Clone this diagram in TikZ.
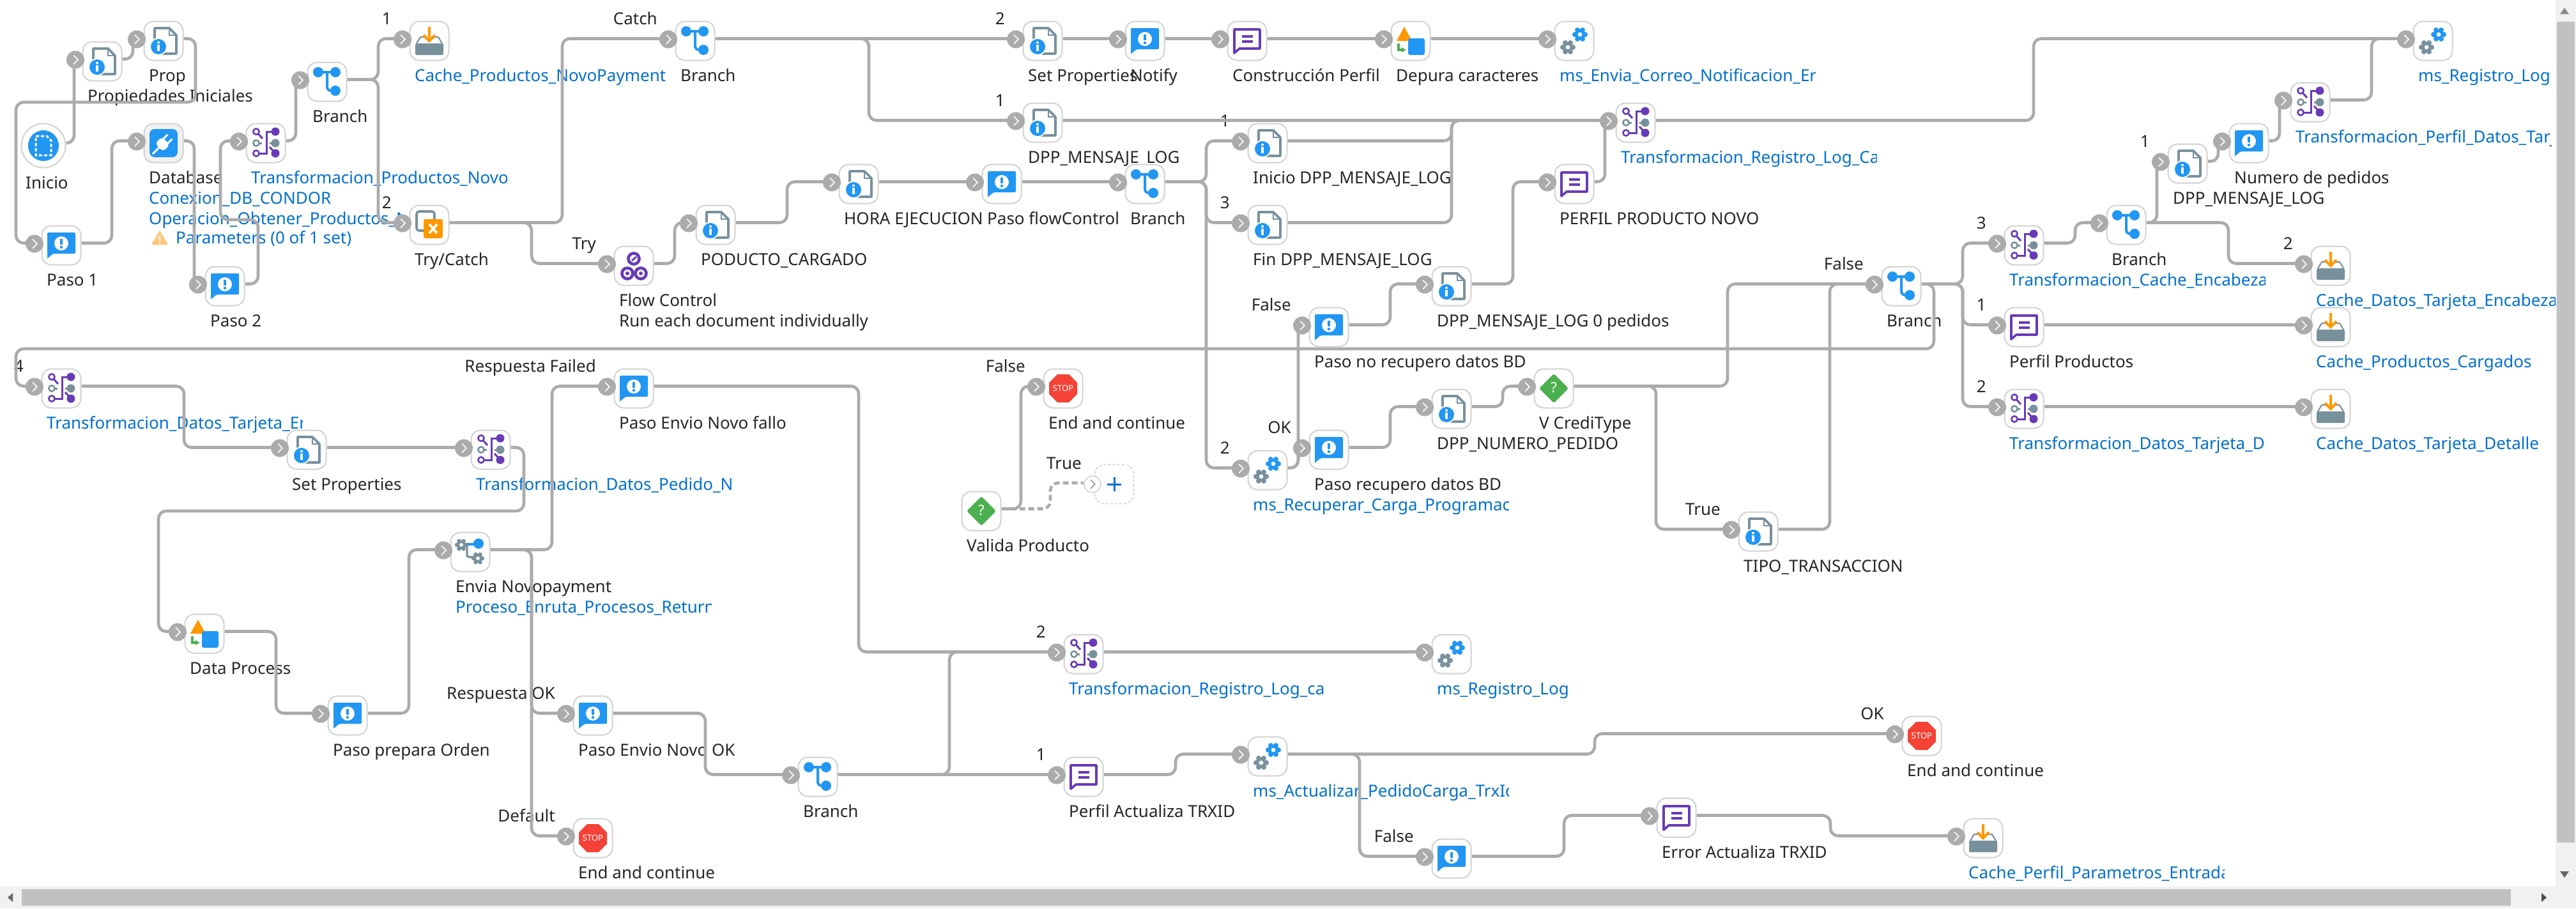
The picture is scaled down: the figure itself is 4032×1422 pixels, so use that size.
\documentclass[tikz,border=0pt]{standalone}
\usepackage{fontspec}
\setmainfont{Noto Sans}
\usetikzlibrary{arrows.meta}
\definecolor{portgray}{HTML}{ABABAB}
\definecolor{boxgray}{HTML}{D2D2D2}
\definecolor{icongray}{HTML}{78909C}
\definecolor{iconblue}{HTML}{2196F3}
\definecolor{iconpurple}{HTML}{673AB7}
\definecolor{iconorange}{HTML}{FF9800}
\definecolor{icongreen}{HTML}{4CAF50}
\definecolor{iconred}{HTML}{F44336}
\definecolor{linkblue}{HTML}{0070D2}
\definecolor{textdark}{HTML}{262626}
\definecolor{scrolltrack}{HTML}{F1F1F1}
\definecolor{scrollthumb}{HTML}{C1C1C1}
\pgfdeclarelayer{labels}
\pgfdeclarelayer{wires}
\pgfsetlayers{labels,wires,main}
\tikzset{
    stepbox/.style={draw=boxgray, fill=white, line width=2pt, rounded corners=15pt, minimum size=61pt, inner sep=0pt},
    stepport/.style={circle, fill=portgray, minimum size=28pt, inner sep=0pt},
    wire/.style={draw=portgray, line width=4.6pt, rounded corners=12pt},
    stepname/.style={anchor=base west, inner sep=0pt, text=textdark, font=\fontsize{26}{26}\selectfont},
    steplink/.style={stepname, text=linkblue},
    edgename/.style={anchor=base east, inner sep=0pt, text=textdark, font=\fontsize{26}{26}\selectfont},
    chevron/.pic={\draw[white, line width=1.6pt] (-3,-7) -- (4,0) -- (-3,7);},
    docinfo/.pic={
        \draw[icongray, line width=3.6pt, line join=round] (-4,20) -- (20,20) -- (20,-9) -- (9,-20) -- (-14,-20) -- (-14,6);
        \draw[icongray, line width=1.6pt] (9,-20) -- (9,-9) -- (20,-9);
        \fill[white] (-8,9) circle (14);
        \fill[iconblue] (-8,9) circle (12);
        \fill[white] (-8,2.5) circle (2);
        \fill[white] (-9.7,6) rectangle (-6.3,15.5);
    },
    notifyicon/.pic={
        \fill[iconblue, rounded corners=2pt] (-22,-20) -- (22,-20) -- (22,13) -- (-13,13) -- (-21,20) -- (-22,20) -- cycle;
        \fill[white] (0,-3) circle (11);
        \fill[iconblue] (-2,-10) rectangle (2,-1);
        \fill[iconblue] (0,3) circle (2.2);
    },
    branchicon/.pic={
        \draw[iconblue, line width=4pt] (-14,-15) -- (13,-15);
        \draw[iconblue, line width=4pt, rounded corners=6pt] (0,-15) -- (0,14) -- (13,14);
        \fill[iconblue] (-14,-15) circle (8) (13,-15) circle (8) (13,14) circle (8);
    },
    mapicon/.pic={
        \draw[iconpurple, line width=3pt] (15,-18) -- (1,-18) -- (1,16) -- (-15,16);
        \draw[iconpurple, line width=3pt] (-15,-18) -- (-5,-7) (15,16) -- (6,6);
        \draw[icongray, line width=3pt] (-15,0) -- (-6,0) (15,0) -- (6,0);
        \draw[iconpurple, line width=2.6pt, fill=white] (-15,-18) circle (4.6) (-15,16) circle (4.6);
        \draw[icongray, line width=2.6pt, fill=white] (-15,0) circle (4.6);
        \fill[iconpurple] (15,-18) circle (6.5) (15,16) circle (6.5);
        \fill[icongray] (15,0) circle (6.5);
    },
    cacheicon/.pic={
        \fill[icongray, rounded corners=2pt] (-22,4) rectangle (22,22);
        \draw[icongray, line width=2pt] (-20,4) -- (-14,-6) -- (-6,-6) (6,-6) -- (14,-6) -- (20,4);
        \draw[iconorange, line width=4pt] (0,-22) -- (0,0) (-9,-9) -- (0,0) -- (9,-9);
    },
    tryicon/.pic={
        \draw[icongray, line width=3.6pt, rounded corners=4pt] (-20,-21) rectangle (8,9);
        \fill[iconorange, rounded corners=3pt] (-9,-9) rectangle (21,21);
        \draw[white, line width=3.6pt] (0,-1) -- (12,13) (12,-1) -- (0,13);
    },
    flowicon/.pic={
        \draw[iconpurple, line width=4.6pt] (0,-11) circle (8.5) (-10,12) circle (8.5) (11,12) circle (8.5);
        \fill[iconpurple] (-10,12) circle (3) (11,12) circle (3);
        \draw[iconpurple, line width=3pt] (-3,-8) -- (4,-14);
    },
    dbicon/.pic={
        \fill[iconblue, rounded corners=8pt] (-22,-22) rectangle (22,22);
        \begin{scope}[rotate=-45]
            \fill[white, rounded corners=6pt] (-9,-5) rectangle (9,10);
            \draw[white, line width=3pt] (0,8) -- (0,24) (-5,-4) -- (-5,-14) (5,-4) -- (5,-14);
        \end{scope}
    },
    starticon/.pic={
        \fill[iconblue] (0,0) circle (24);
        \draw[white, line width=3pt, dash pattern=on 5pt off 3pt] (-12,-15) -- (5,-15) -- (12,-8) -- (12,15) -- (-12,15) -- cycle;
    },
    shapeicon/.pic={
        \fill[iconorange] (-22,0) -- (-10,-22) -- (2,0) -- cycle;
        \fill[iconblue, rounded corners=3pt] (-4,-4) rectangle (22,22);
        \draw[icongreen, line width=3.4pt, -{Latex[length=7pt,width=9pt]}] (-19,4) -- (-19,14) -- (-7,14);
    },
    flower/.pic={
        \fill (0,0) circle (8);
        \foreach \a in {0,60,...,300} {\fill (\a:8) circle (4);}
        \fill[white] (0,0) circle (3.4);
    },
    gearicon/.pic={
        \pic[iconblue] at (9,-10) {flower};
        \pic[icongray] at (-10,10) {flower};
    },
    routeicon/.pic={
        \draw[iconblue, line width=3.4pt] (-14,-12) -- (13,-12);
        \draw[icongray, line width=3.4pt, rounded corners=3pt] (-5,-11) -- (-5,8) -- (12,8);
        \pic[icongray, scale=.85] at (-14,-11) {flower};
        \pic[icongray, scale=.85] at (12,10) {flower};
        \fill[iconblue] (13,-13) circle (8);
    },
    stopicon/.pic={
        \fill[iconred] (-9,-22) -- (9,-22) -- (22,-9) -- (22,9) -- (9,22) -- (-9,22) -- (-22,9) -- (-22,-9) -- cycle;
        \node[text=white, inner sep=0pt, font=\fontsize{13}{13}\selectfont\bfseries] (-word) at (0,0) {STOP};
    },
    decideicon/.pic={
        \fill[icongreen, rounded corners=3pt] (0,-23) -- (23,0) -- (0,23) -- (-23,0) -- cycle;
        \node[text=white, inner sep=0pt, font=\fontsize{22}{22}\selectfont\bfseries] (-word) at (0,-1) {?};
    },
    perfilicon/.pic={
        \draw[iconpurple, line width=3.6pt, line join=round] (-20,-18) -- (20,-18) -- (20,12) -- (-12,12) -- (-20,19) -- cycle;
        \draw[iconpurple, line width=3.4pt] (-8,-7) -- (9,-7) (-8,1) -- (9,1);
    },
}
\newcommand{\stepbare}[5]{%
    \node[stepbox, fill=#5] (#1) at (#2,#3) {};
    \pic (#1-icon) at (#1.center) {#4};
    \coordinate (#1-in) at ([xshift=-42pt,yshift=3.5pt]#1.center);
    \coordinate (#1-out) at ([yshift=3.5pt]#1.east);
}
\newcommand{\stepnode}[4]{%
    \stepbare{#1}{#2}{#3}{#4}{white}
    \node[stepport] (#1-port) at ([xshift=-42pt,yshift=2.5pt]#1.center) {};
    \pic at (#1-port.center) {chevron};
}
\newcommand{\wire}[3]{\draw[wire] (#1-out) -- (#3,0 |- #1-out) -- (#3,0 |- #2-in) -- (#2-in);}
\newcommand{\straight}[2]{\draw[wire] (#1-out) -- (#2-in);}
\newcommand{\stepline}[4]{%
    \begin{scope}
        \clip ([xshift=-23pt,yshift={-(33+32*#3)*1pt}]#2.center) rectangle ++(400,44);
        \node[#1] (#2-line#3) at ([xshift=-23pt,yshift={-(63+32*#3)*1pt}]#2.center) {#4};
    \end{scope}
}
\newcommand{\stepdark}[2]{\stepline{stepname}{#1}{0}{#2}}
\newcommand{\steplinked}[2]{\stepline{steplink}{#1}{0}{#2}}
\newcommand{\edgetext}[2]{\node[edgename] (#1-edge) at ([xshift=-59pt,yshift=26pt]#1.center) {#2};}

\begin{document}
\begin{tikzpicture}[x=1pt, y=-1pt]
    \useasboundingbox (0,0) rectangle (4032,1422);

    \node[stepbox, circle, minimum size=69pt] (inicio) at (68,228) {};
    \pic at (inicio.center) {starticon};
    \coordinate (inicio-out) at ([yshift=4pt]inicio.east);
    \stepnode{propini}{160}{96}{docinfo}
    \stepnode{prop}{256}{64}{docinfo}
    \stepnode{pasouno}{96}{384}{notifyicon}
    \stepbare{database}{256}{224}{dbicon}{scrolltrack}
    \node[stepport] (database-port) at ([xshift=-42pt,yshift=2.5pt]database.center) {};
    \pic at (database-port.center) {chevron};
    \stepnode{pasodos}{352}{448}{notifyicon}
    \stepnode{mapproductos}{416}{224}{mapicon}
    \stepnode{branchuno}{512}{128}{branchicon}
    \stepnode{cachenovo}{672}{64}{cacheicon}
    \stepnode{trycatch}{672}{352}{tryicon}
    \stepnode{branchcatch}{1088}{64}{branchicon}
    \stepnode{flowctl}{992}{416}{flowicon}
    \stepnode{producto}{1120}{352}{docinfo}
    \stepnode{hora}{1344}{288}{docinfo}
    \stepnode{pasoflow}{1568}{288}{notifyicon}
    \stepnode{branchflow}{1792}{288}{branchicon}
    \stepnode{setprops}{1632}{64}{docinfo}
    \stepnode{notify}{1792}{64}{notifyicon}
    \stepnode{construccion}{1952}{64}{perfilicon}
    \stepnode{depura}{2208}{64}{shapeicon}
    \stepnode{msenvia}{2464}{64}{gearicon}
    \stepnode{dpplog}{1632}{192}{docinfo}
    \stepnode{iniciodpp}{1984}{224}{docinfo}
    \stepnode{findpp}{1984}{352}{docinfo}
    \stepnode{mapreglog}{2560}{192}{mapicon}
    \stepnode{perfilnovo}{2464}{288}{perfilicon}
    \stepnode{dppcero}{2272}{448}{docinfo}
    \stepnode{pasonorec}{2080}{512}{notifyicon}
    \stepnode{msrecuperar}{1984}{736}{gearicon}
    \stepnode{pasorec}{2080}{704}{notifyicon}
    \stepnode{dppnumero}{2272}{640}{docinfo}
    \stepnode{vcredi}{2432}{608}{decideicon}
    \stepnode{tipotrans}{2752}{832}{docinfo}
    \stepnode{branchcredi}{2976}{448}{branchicon}
    \stepnode{mapcache}{3168}{384}{mapicon}
    \stepnode{perfilprod}{3168}{512}{perfilicon}
    \stepnode{mapdetalle}{3168}{640}{mapicon}
    \stepnode{branchcache}{3328}{352}{branchicon}
    \stepnode{dpplogdos}{3424}{256}{docinfo}
    \stepnode{numpedidos}{3520}{224}{notifyicon}
    \stepnode{mapperfil}{3616}{160}{mapicon}
    \stepnode{msregtop}{3808}{64}{gearicon}
    \stepnode{cacheenc}{3648}{416}{cacheicon}
    \stepnode{cacheprod}{3648}{512}{cacheicon}
    \stepnode{cachedet}{3648}{640}{cacheicon}
    \stepnode{mapencab}{96}{608}{mapicon}
    \stepnode{setpropsdos}{480}{704}{docinfo}
    \stepnode{mappedido}{768}{704}{mapicon}
    \stepnode{dataproc}{320}{992}{shapeicon}
    \stepnode{pasoorden}{544}{1120}{notifyicon}
    \stepnode{envianovo}{736}{864}{routeicon}
    \stepnode{pasofallo}{992}{608}{notifyicon}
    \stepnode{pasook}{928}{1120}{notifyicon}
    \stepnode{endlow}{928}{1312}{stopicon}
    \stepnode{endvalida}{1664}{608}{stopicon}
    \stepbare{valida}{1536}{800}{decideicon}{white}
    \stepnode{mapregca}{1696}{1024}{mapicon}
    \stepnode{branchok}{1280}{1216}{branchicon}
    \stepnode{perfilact}{1696}{1216}{perfilicon}
    \stepnode{msact}{1984}{1184}{gearicon}
    \stepnode{msreglow}{2272}{1024}{gearicon}
    \stepnode{pasoact}{2272}{1344}{notifyicon}
    \stepnode{erroract}{2624}{1280}{perfilicon}
    \stepnode{endok}{3008}{1152}{stopicon}
    \stepnode{cacheperfil}{3104}{1312}{cacheicon}

    \node[stepbox, line width=1.6pt, dash pattern=on 4pt off 3pt] (addstep) at (1744,758) {};
    \node[stepport, fill=white, draw=boxgray, line width=1.6pt, minimum size=26pt] (addstep-port) at ([xshift=-34pt]addstep.center) {};
    \draw[boxgray!60!black, line width=1.2pt] ([shift={(-3,-7)}]addstep-port.center) -- ([shift={(4,0)}]addstep-port.center) -- ([shift={(-3,7)}]addstep-port.center);
    \coordinate (addstep-in) at ([yshift=2pt]addstep-port.west);
    \draw[linkblue, line width=3pt] ([xshift=-11pt]addstep.center) -- ([xshift=11pt]addstep.center) ([yshift=-11pt]addstep.center) -- ([yshift=11pt]addstep.center);

    \begin{pgfonlayer}{wires}
        \draw[wire] (inicio-out) -- (116,0 |- inicio-out) -- (116,0 |- propini-in) -- (propini-in);
        \wire{propini}{prop}{208}
        \draw[wire] (prop-out) -- (306,0 |- prop-out) -- (306,160) -- (25,160) -- (25,0 |- pasouno-in) -- (pasouno-in);
        \wire{pasouno}{database}{175}
        \wire{database}{pasodos}{304}
        \draw[wire] (pasodos-out) -- (404,0 |- pasodos-out) -- (404,344) -- (345,344) -- (345,0 |- mapproductos-in) -- (mapproductos-in);
        \wire{mapproductos}{branchuno}{463}
        \wire{branchuno}{cachenovo}{592}
        \wire{branchuno}{trycatch}{592}
        \wire{trycatch}{branchcatch}{880}
        \wire{trycatch}{flowctl}{832}
        \wire{flowctl}{producto}{1056}
        \wire{producto}{hora}{1232}
        \straight{hora}{pasoflow}
        \straight{pasoflow}{branchflow}
        \wire{branchflow}{iniciodpp}{1888}
        \wire{branchflow}{findpp}{1888}
        \wire{branchflow}{msrecuperar}{1888}
        \straight{branchcatch}{setprops}
        \wire{branchcatch}{dpplog}{1360}
        \straight{setprops}{notify}
        \straight{notify}{construccion}
        \straight{construccion}{depura}
        \straight{depura}{msenvia}
        \straight{dpplog}{mapreglog}
        \wire{iniciodpp}{mapreglog}{2272}
        \wire{findpp}{mapreglog}{2272}
        \wire{perfilnovo}{mapreglog}{2512}
        \wire{dppcero}{perfilnovo}{2368}
        \wire{pasonorec}{dppcero}{2176}
        \wire{msrecuperar}{pasonorec}{2032}
        \wire{msrecuperar}{pasorec}{2032}
        \wire{pasorec}{dppnumero}{2176}
        \wire{dppnumero}{vcredi}{2352}
        \wire{vcredi}{branchcredi}{2704}
        \wire{vcredi}{tipotrans}{2592}
        \wire{tipotrans}{branchcredi}{2864}
        \wire{branchcredi}{mapcache}{3072}
        \wire{branchcredi}{perfilprod}{3072}
        \wire{branchcredi}{mapdetalle}{3072}
        \draw[wire] (branchcredi-out) -- (3027,0 |- branchcredi-out) -- (3027,546) -- (25,546) -- (25,0 |- mapencab-in) -- (mapencab-in);
        \wire{mapcache}{branchcache}{3248}
        \wire{branchcache}{dpplogdos}{3376}
        \wire{branchcache}{cacheenc}{3488}
        \wire{dpplogdos}{numpedidos}{3472}
        \wire{numpedidos}{mapperfil}{3568}
        \wire{mapperfil}{msregtop}{3712}
        \wire{mapreglog}{msregtop}{3183}
        \straight{perfilprod}{cacheprod}
        \straight{mapdetalle}{cachedet}
        \wire{mapencab}{setpropsdos}{288}
        \straight{setpropsdos}{mappedido}
        \draw[wire] (mappedido-out) -- (820,0 |- mappedido-out) -- (820,800) -- (248,800) -- (248,0 |- dataproc-in) -- (dataproc-in);
        \wire{dataproc}{pasoorden}{432}
        \wire{pasoorden}{envianovo}{640}
        \wire{envianovo}{pasofallo}{864}
        \wire{envianovo}{pasook}{832}
        \wire{envianovo}{endlow}{832}
        \wire{pasofallo}{mapregca}{1344}
        \wire{pasook}{branchok}{1104}
        \wire{branchok}{mapregca}{1486}
        \straight{branchok}{perfilact}
        \wire{perfilact}{msact}{1840}
        \straight{mapregca}{msreglow}
        \wire{valida}{endvalida}{1598}
        \draw[wire, dash pattern=on 9pt off 5pt] (valida-out) -- (1644,0 |- valida-out) -- (1644,0 |- addstep-in) -- (addstep-in);
        \wire{msact}{endok}{2496}
        \wire{msact}{pasoact}{2128}
        \wire{pasoact}{erroract}{2448}
        \wire{erroract}{cacheperfil}{2865}
    \end{pgfonlayer}

    \begin{pgfonlayer}{labels}
        \fill[white] (0,0) rectangle (4032,1422);
        \node[stepname] (inicio-line0) at (40,295) {Inicio};
        \stepdark{propini}{Propiedades Iniciales}
        \stepdark{prop}{Prop}
        \stepdark{pasouno}{Paso 1}
        \stepdark{database}{Database}
        \stepline{steplink}{database}{1}{Conexion\_DB\_CONDOR}
        \stepline{steplink}{database}{2}{Operacion\_Obtener\_Productos\_N}
        \fill[iconorange!55!white, rounded corners=1pt] (237,383) -- (250,361) -- (263,383) -- cycle;
        \fill[white] (248.6,369) rectangle (251.4,377) (248.6,378.5) rectangle (251.4,381);
        \node[steplink] (database-line3) at (275,381) {Parameters (0 of 1 set)};
        \stepdark{pasodos}{Paso 2}
        \steplinked{mapproductos}{Transformacion\_Productos\_Novo}
        \stepdark{branchuno}{Branch}
        \steplinked{cachenovo}{Cache\_Productos\_NovoPayment}
        \stepdark{trycatch}{Try/Catch}
        \stepdark{branchcatch}{Branch}
        \stepdark{flowctl}{Flow Control}
        \stepline{stepname}{flowctl}{1}{Run each document individually}
        \stepdark{producto}{PODUCTO\_CARGADO}
        \stepdark{hora}{HORA EJECUCION}
        \stepdark{pasoflow}{Paso flowControl}
        \stepdark{branchflow}{Branch}
        \stepdark{setprops}{Set Properties}
        \stepdark{notify}{Notify}
        \stepdark{construccion}{Construcción Perfil}
        \stepdark{depura}{Depura caracteres}
        \steplinked{msenvia}{ms\_Envia\_Correo\_Notificacion\_Er}
        \stepdark{dpplog}{DPP\_MENSAJE\_LOG}
        \stepdark{iniciodpp}{Inicio DPP\_MENSAJE\_LOG}
        \stepdark{findpp}{Fin DPP\_MENSAJE\_LOG}
        \steplinked{mapreglog}{Transformacion\_Registro\_Log\_Ca}
        \stepdark{perfilnovo}{PERFIL PRODUCTO NOVO}
        \stepdark{dppcero}{DPP\_MENSAJE\_LOG 0 pedidos}
        \stepdark{pasonorec}{Paso no recupero datos BD}
        \steplinked{msrecuperar}{ms\_Recuperar\_Carga\_Programaci}
        \stepdark{pasorec}{Paso recupero datos BD}
        \stepdark{dppnumero}{DPP\_NUMERO\_PEDIDO}
        \stepdark{vcredi}{V CrediType}
        \stepdark{tipotrans}{TIPO\_TRANSACCION}
        \stepdark{branchcredi}{Branch}
        \steplinked{mapcache}{Transformacion\_Cache\_Encabeza}
        \stepdark{perfilprod}{Perfil Productos}
        \steplinked{mapdetalle}{Transformacion\_Datos\_Tarjeta\_D}
        \stepdark{branchcache}{Branch}
        \stepdark{dpplogdos}{DPP\_MENSAJE\_LOG}
        \stepdark{numpedidos}{Numero de pedidos}
        \steplinked{mapperfil}{Transformacion\_Perfil\_Datos\_Tarj}
        \steplinked{msregtop}{ms\_Registro\_Log}
        \steplinked{cacheenc}{Cache\_Datos\_Tarjeta\_Encabeza}
        \steplinked{cacheprod}{Cache\_Productos\_Cargados}
        \steplinked{cachedet}{Cache\_Datos\_Tarjeta\_Detalle}
        \steplinked{mapencab}{Transformacion\_Datos\_Tarjeta\_En}
        \stepdark{setpropsdos}{Set Properties}
        \steplinked{mappedido}{Transformacion\_Datos\_Pedido\_N}
        \stepdark{dataproc}{Data Process}
        \stepdark{pasoorden}{Paso prepara Orden}
        \stepdark{envianovo}{Envia Novopayment}
        \stepline{steplink}{envianovo}{1}{Proceso\_Enruta\_Procesos\_Return}
        \stepdark{pasofallo}{Paso Envio Novo fallo}
        \stepdark{pasook}{Paso Envio Novo OK}
        \stepdark{endlow}{End and continue}
        \stepdark{endvalida}{End and continue}
        \stepdark{valida}{Valida Producto}
        \steplinked{mapregca}{Transformacion\_Registro\_Log\_ca}
        \stepdark{branchok}{Branch}
        \stepdark{perfilact}{Perfil Actualiza TRXID}
        \steplinked{msact}{ms\_Actualizar\_PedidoCarga\_TrxId}
        \steplinked{msreglow}{ms\_Registro\_Log}
        \stepdark{erroract}{Error Actualiza TRXID}
        \stepdark{endok}{End and continue}
        \steplinked{cacheperfil}{Cache\_Perfil\_Parametros\_Entrada}

        \edgetext{cachenovo}{1}
        \edgetext{trycatch}{2}
        \edgetext{branchcatch}{Catch}
        \edgetext{flowctl}{Try}
        \edgetext{setprops}{2}
        \edgetext{dpplog}{1}
        \edgetext{iniciodpp}{1}
        \edgetext{findpp}{3}
        \edgetext{pasonorec}{False}
        \edgetext{pasorec}{OK}
        \edgetext{msrecuperar}{2}
        \edgetext{branchcredi}{False}
        \edgetext{tipotrans}{True}
        \edgetext{mapcache}{3}
        \edgetext{perfilprod}{1}
        \edgetext{mapdetalle}{2}
        \edgetext{dpplogdos}{1}
        \edgetext{cacheenc}{2}
        \edgetext{mapencab}{4}
        \edgetext{pasofallo}{Respuesta Failed}
        \edgetext{pasook}{Respuesta OK}
        \edgetext{endlow}{Default}
        \edgetext{endvalida}{False}
        \edgetext{mapregca}{2}
        \edgetext{perfilact}{1}
        \edgetext{pasoact}{False}
        \edgetext{endok}{OK}
        \node[edgename] (addstep-edge) at (1693,734) {True};
    \end{pgfonlayer}

    \fill[scrolltrack] (0,1388) rectangle (4032,1422);
    \fill[scrolltrack] (4000,0) rectangle (4032,1422);
    \fill[scrollthumb] (34,1392) rectangle (3930,1418);
    \fill[scrollthumb] (4002,34) rectangle (4030,1319);
    \fill[black!60] (12,1405) -- (20,1398) -- (20,1412) -- cycle;
    \fill[black!70] (3986,1405) -- (3978,1398) -- (3978,1412) -- cycle;
    \fill[black!45] (4014,12) -- (4021,22) -- (4007,22) -- cycle;
    \fill[black!60] (4014,1374) -- (4021,1364) -- (4007,1364) -- cycle;
\end{tikzpicture}
\end{document}
